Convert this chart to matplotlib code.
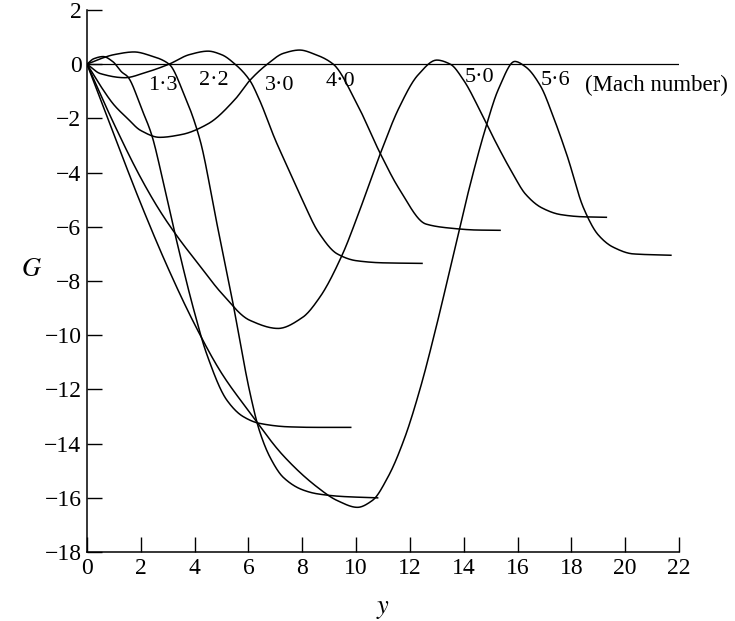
import matplotlib
matplotlib.use("Agg")
import matplotlib.pyplot as plt
import numpy as np

# Curves: G against y for each Mach number
m13_y = [0, 0.25, 0.6, 0.95, 1.3, 1.5, 2.05, 2.4, 2.8, 3.35, 3.95, 4.45, 5.2, 5.8, 6.4, 7.5, 8.5, 9.8]
m13_g = [0, 0.2, 0.28, 0.1, -0.3, -0.45, -1.7, -2.6, -4.2, -6.6, -9.0, -10.7, -12.4, -13.0, -13.25, -13.38, -13.4, -13.4]

m22_y = [0, 0.5, 1.0, 1.75, 2.4, 3.05, 3.6, 4.2, 4.8, 5.4, 6.05, 6.4, 6.8, 7.3, 8.0, 8.55, 9.5, 10.8]
m22_g = [0, 0.2, 0.35, 0.45, 0.3, 0, -1.1, -2.8, -5.75, -8.7, -12.1, -13.5, -14.5, -15.25, -15.7, -15.85, -15.95, -16.0]

m30_y = [0, 0.5, 1.4, 2.2, 3.05, 3.8, 4.5, 5.0, 5.5, 6.05, 6.4, 7.0, 7.5, 8.0, 8.6, 9.3, 10.0, 11.0, 12.45]
m30_g = [0, -0.35, -0.5, -0.3, 0, 0.35, 0.48, 0.35, 0, -0.6, -1.3, -2.8, -3.9, -5.0, -6.2, -7.0, -7.25, -7.33, -7.35]

m40_y = [0, 0.5, 1.0, 1.5, 2.0, 2.7, 3.5, 4.5, 5.5, 6.05, 6.7, 7.3, 7.9, 8.5, 9.15, 10.0, 10.9, 11.6, 12.6, 13.5, 14.5, 15.35]
m40_g = [0, -0.8, -1.5, -2.0, -2.45, -2.7, -2.6, -2.2, -1.3, -0.6, 0, 0.4, 0.52, 0.35, 0, -1.4, -3.3, -4.6, -5.9, -6.05, -6.12, -6.13]

m50_y = [0, 1, 2, 2.7, 3.35, 4.2, 5.0, 6.05, 7.1, 8.0, 8.65, 9.5, 10.0, 10.9, 11.6, 12.3, 13.0, 13.5, 14.0, 14.6, 15.2, 15.8, 16.3, 16.9, 17.6, 18.4, 19.3]
m50_g = [0, -2.2, -4.2, -5.4, -6.35, -7.45, -8.45, -9.45, -9.75, -9.35, -8.6, -7.0, -5.75, -3.3, -1.6, -0.4, 0.15, 0.0, -0.6, -1.7, -2.9, -4.0, -4.8, -5.3, -5.55, -5.63, -5.65]

m56_y = [0, 1, 2, 3, 4, 5, 6.05, 7.3, 8.55, 9.3, 10.05, 10.6, 11.2, 11.8, 12.4, 13.0, 13.6, 14.2, 14.8, 15.3, 15.9, 16.3, 16.85, 17.35, 17.85, 18.45, 19.0, 19.55, 20.3, 21.7]
m56_g = [0, -2.6, -5.15, -7.5, -9.6, -11.4, -12.85, -14.45, -15.6, -16.1, -16.35, -16.1, -15.2, -13.8, -11.9, -9.6, -7.1, -4.6, -2.4, -0.9, 0.1, -0.1, -0.8, -2.0, -3.4, -5.3, -6.3, -6.75, -7.0, -7.05]

mach_labels = ["1\u00b73", "2\u00b72", "3\u00b70", "4\u00b70", "5\u00b70", "5\u00b76"]
label_y = [2.8, 4.7, 7.15, 9.4, 14.6, 17.4]
label_g = [-0.8, -0.6, -0.8, -0.65, -0.5, -0.6]

x_ticks = list(range(0, 23, 2))
g_ticks = list(range(-18, 3, 2))


def pchip(x, y, xs):
    # monotone cubic through the read points, only to draw a smooth line
    x = np.asarray(x, float)
    y = np.asarray(y, float)
    h = np.diff(x)
    d = np.diff(y) / h
    m = np.zeros_like(y)
    for k in range(1, len(x) - 1):
        if d[k - 1] * d[k] > 0:
            w1 = 2 * h[k] + h[k - 1]
            w2 = h[k] + 2 * h[k - 1]
            m[k] = (w1 + w2) / (w1 / d[k - 1] + w2 / d[k])
    m[0] = d[0]
    m[-1] = d[-1]
    idx = np.clip(np.searchsorted(x, xs) - 1, 0, len(h) - 1)
    t = (xs - x[idx]) / h[idx]
    h00 = 2 * t**3 - 3 * t**2 + 1
    h10 = t**3 - 2 * t**2 + t
    h01 = -2 * t**3 + 3 * t**2
    h11 = t**3 - t**2
    return h00 * y[idx] + h10 * h[idx] * m[idx] + h01 * y[idx + 1] + h11 * h[idx] * m[idx + 1]


def main():
    plt.rcParams["font.family"] = "Liberation Serif"
    plt.rcParams["mathtext.fontset"] = "stix"
    fig = plt.figure(figsize=(7.35, 6.21), dpi=100)
    ax = fig.add_axes([0.1184, 0.111, 0.8054, 0.873])

    curves = [(m13_y, m13_g), (m22_y, m22_g), (m30_y, m30_g),
              (m40_y, m40_g), (m50_y, m50_g), (m56_y, m56_g)]
    for xs, gs in curves:
        xx = np.linspace(xs[0], xs[-1], 600)
        ax.plot(xx, pchip(xs, gs, xx), color="black", lw=1.1)

    ax.plot([0, 22], [0, 0], color="black", lw=0.9)

    for lab, lx, lg in zip(mach_labels, label_y, label_g):
        ax.text(lx, lg, lab, fontsize=16, ha="center", va="center")
    ax.text(18.5, -0.8, "(Mach number)", fontsize=16.5, ha="left", va="center")

    ax.set_xlim(0, 22)
    ax.set_ylim(-18, 2)
    ax.set_xticks(x_ticks)
    ax.set_yticks(g_ticks)
    ax.set_yticklabels(["\u2212%d" % -v if v < 0 else "%d" % v for v in g_ticks])
    ax.tick_params(direction="in", length=11, width=1, labelsize=17, pad=4)
    for s in ["top", "right"]:
        ax.spines[s].set_visible(False)
    ax.spines["left"].set_linewidth(1.1)
    ax.spines["bottom"].set_linewidth(1.1)
    ax.set_xlabel("$y$", fontsize=19, labelpad=15)
    ax.set_ylabel("$G$", fontsize=19, rotation=0, labelpad=9)

    fig.savefig("out.png")


if __name__ == "__main__":
    main()
